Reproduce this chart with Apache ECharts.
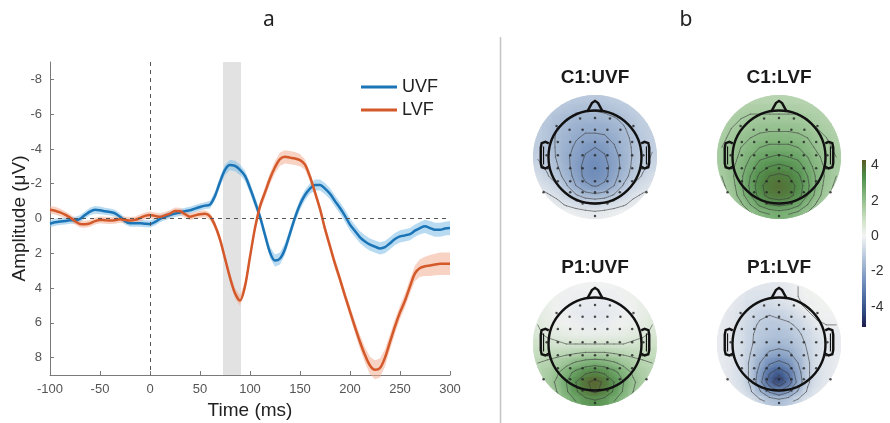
<!DOCTYPE html>
<html><head><meta charset="utf-8">
<script src="https://cdn.jsdelivr.net/npm/echarts@6/dist/echarts.min.js"></script>
<style>html,body{margin:0;padding:0;background:#fff}#c{width:890px;height:423px}</style>
</head><body><div id="c"></div>
<script>
// ---------------- panel a data ----------------
const times = [-100,-95,-90,-85,-80,-75,-70,-65,-60,-55,-50,-45,-40,-35,-30,-25,-20,-15,-10,-5,0,5,10,15,20,25,30,35,40,45,50,55,60,65,70,75,80,85,90,95,100,105,110,115,120,125,130,135,140,145,150,155,160,165,170,175,180,185,190,195,200,205,210,215,220,225,230,235,240,245,250,255,260,265,270,275,280,285,290,295,300];
const uvf = [0.3,0.22,0.17,0.14,0.1,0.1,0.02,-0.2,-0.4,-0.5,-0.47,-0.42,-0.37,-0.3,-0.1,0.15,0.27,0.27,0.27,0.3,0.32,0.2,0.02,-0.1,-0.2,-0.28,-0.35,-0.42,-0.47,-0.57,-0.66,-0.74,-0.8,-1.3,-2.1,-2.8,-3.08,-3.02,-2.8,-2.45,-1.75,-0.95,-0.1,0.95,1.95,2.42,2.3,1.75,0.85,-0.05,-0.8,-1.35,-1.72,-1.93,-1.93,-1.72,-1.42,-1.0,-0.6,-0.15,0.35,0.72,1.08,1.32,1.5,1.62,1.72,1.65,1.42,1.18,1.03,0.97,0.9,0.7,0.55,0.45,0.55,0.65,0.65,0.58,0.55];
const lvf = [-0.5,-0.45,-0.35,-0.22,-0.05,0.15,0.32,0.33,0.28,0.15,0.08,0.1,0.12,0.1,0.05,0.08,0.12,0.08,-0.03,-0.15,-0.2,-0.15,-0.1,-0.18,-0.28,-0.43,-0.42,-0.25,-0.1,-0.18,-0.25,-0.28,-0.12,0.4,1.2,2.3,3.4,4.3,4.72,3.9,2.2,0.55,-0.7,-1.5,-2.3,-2.95,-3.42,-3.55,-3.5,-3.45,-3.36,-3.1,-2.4,-1.5,-0.55,0.6,1.6,2.6,3.5,4.45,5.35,6.25,7.1,7.85,8.45,8.7,8.6,8.0,7.1,6.2,5.4,4.72,3.9,3.15,2.85,2.75,2.7,2.65,2.6,2.6,2.6];
const uvfSem = [0.2,0.2,0.2,0.2,0.2,0.2,0.2,0.2,0.22,0.22,0.22,0.2,0.2,0.2,0.2,0.2,0.2,0.2,0.2,0.2,0.2,0.2,0.2,0.2,0.2,0.2,0.2,0.2,0.2,0.2,0.2,0.2,0.22,
  0.25,0.28,0.3,0.3,0.3,0.3,0.3,0.3,
  0.3,0.3,0.3,0.32,0.35,0.35,0.33,0.3,
  0.3,0.3,0.3,0.3,0.32,0.32,0.32,0.32,0.32,0.33,0.35,0.35,
  0.35,0.35,0.35,0.35,0.35,0.35,0.35,0.35,0.35,0.35,0.35,0.35,0.35,0.35,0.38,0.4,0.4,0.4,0.4,0.4];
const lvfSem = [0.22,0.22,0.22,0.2,0.2,0.2,0.2,0.2,0.2,0.2,0.2,0.2,0.2,0.2,0.2,0.2,0.2,0.2,0.2,0.2,0.2,0.2,0.2,0.2,0.2,0.2,0.2,0.2,0.2,0.2,0.2,0.2,0.2,
  0.22,0.25,0.28,0.3,0.3,0.3,0.28,0.25,
  0.25,0.28,0.3,0.32,0.35,0.38,0.38,0.38,
  0.38,0.35,0.3,0.28,0.25,0.25,0.25,0.28,0.3,0.3,0.3,0.32,
  0.35,0.4,0.45,0.5,0.55,0.55,0.5,0.45,0.42,0.4,0.4,0.42,0.45,0.5,0.55,0.6,0.62,0.65,0.65,0.65];
const xTicks = [-100,-50,0,50,100,150,200,250,300];
const yTicks = [-8,-6,-4,-2,0,2,4,6,8];
const shadeRange = [73, 91];
const seriesNames = ['UVF','LVF'];

// ---------------- panel b data ----------------
const mapTitles = ['C1:UVF','C1:LVF','P1:UVF','P1:LVF'];
const topoX = [-0.923,-0.769,-0.615,-0.462,-0.308,-0.154,0,0.154,0.308,0.462,0.615,0.769,0.923];
const topoY = [0.923,0.769,0.615,0.462,0.308,0.154,0,-0.154,-0.308,-0.462,-0.615,-0.769,-0.923];
const topoC1UVF = [
 [-0.9,-0.9,-0.95,-1.0,-1.1,-1.1,-1.1,-1.1,-1.0,-0.95,-0.9,-0.85,-0.85],
 [-0.95,-1.0,-1.1,-1.2,-1.3,-1.35,-1.35,-1.3,-1.2,-1.1,-0.95,-0.85,-0.85],
 [-1.0,-1.1,-1.3,-1.4,-1.55,-1.6,-1.6,-1.55,-1.45,-1.3,-1.1,-0.95,-0.85],
 [-1.0,-1.2,-1.4,-1.55,-1.7,-1.8,-1.8,-1.8,-1.6,-1.45,-1.2,-1.0,-0.95],
 [-1.0,-1.2,-1.45,-1.6,-1.85,-2.0,-2.0,-1.95,-1.8,-1.55,-1.3,-1.1,-0.95],
 [-1.0,-1.2,-1.45,-1.7,-2.0,-2.3,-2.4,-2.3,-1.95,-1.6,-1.35,-1.1,-0.95],
 [-0.95,-1.1,-1.45,-1.8,-2.1,-2.45,-2.55,-2.45,-2.1,-1.7,-1.35,-1.1,-0.85],
 [-0.75,-1.0,-1.35,-1.7,-2.2,-2.55,-2.7,-2.55,-2.2,-1.7,-1.3,-1.0,-0.75],
 [-0.6,-0.85,-1.2,-1.6,-2.1,-2.55,-2.7,-2.55,-2.1,-1.6,-1.2,-0.85,-0.6],
 [-0.45,-0.6,-0.85,-1.35,-1.9,-2.3,-2.45,-2.3,-1.9,-1.35,-0.85,-0.6,-0.45],
 [-0.25,-0.35,-0.5,-0.85,-1.35,-1.7,-1.8,-1.7,-1.35,-0.85,-0.5,-0.35,-0.25],
 [-0.1,-0.15,-0.25,-0.45,-0.6,-0.75,-0.85,-0.75,-0.6,-0.45,-0.25,-0.15,-0.1],
 [0.2,0.2,0.1,0.0,-0.1,-0.15,-0.2,-0.15,-0.1,0.0,0.1,0.2,0.2]];
const topoC1LVF = [
 [1.2,1.2,1.2,1.3,1.3,1.3,1.3,1.3,1.3,1.3,1.2,1.2,1.2],
 [1.3,1.3,1.4,1.5,1.5,1.5,1.5,1.5,1.5,1.4,1.4,1.3,1.3],
 [1.4,1.5,1.6,1.7,1.7,1.7,1.7,1.7,1.7,1.6,1.5,1.4,1.3],
 [1.5,1.6,1.7,1.8,1.9,1.9,1.9,1.9,1.9,1.8,1.6,1.5,1.4],
 [1.5,1.7,1.9,2.0,2.1,2.2,2.2,2.2,2.1,2.0,1.8,1.6,1.5],
 [1.6,1.8,2.0,2.2,2.4,2.5,2.5,2.5,2.4,2.2,1.9,1.7,1.5],
 [1.6,1.8,2.1,2.4,2.7,2.8,2.9,2.8,2.7,2.4,2.1,1.8,1.6],
 [1.6,1.9,2.2,2.6,3.0,3.2,3.3,3.2,3.0,2.6,2.2,1.9,1.6],
 [1.6,1.9,2.3,2.8,3.3,3.6,3.7,3.6,3.3,2.8,2.3,1.9,1.6],
 [1.5,1.8,2.3,2.9,3.5,3.8,3.9,3.8,3.5,2.9,2.3,1.8,1.5],
 [1.4,1.7,2.2,2.8,3.4,3.8,3.9,3.8,3.4,2.8,2.2,1.7,1.4],
 [1.3,1.5,1.9,2.4,2.9,3.2,3.3,3.2,2.9,2.4,1.9,1.5,1.3],
 [1.2,1.3,1.6,1.9,2.2,2.4,2.5,2.4,2.2,1.9,1.6,1.3,1.2]];
const topoP1UVF = [
 [0.3,0.3,0.2,0.1,0.0,0.0,0.0,0.0,0.0,0.1,0.2,0.3,0.3],
 [0.3,0.2,0.1,0.0,-0.1,-0.1,-0.1,-0.1,-0.1,0.0,0.1,0.2,0.3],
 [0.3,0.2,0.0,-0.1,-0.2,-0.2,-0.2,-0.2,-0.2,-0.1,0.0,0.2,0.3],
 [0.4,0.2,0.0,-0.1,-0.2,-0.3,-0.3,-0.3,-0.2,-0.1,0.0,0.2,0.4],
 [0.5,0.3,0.1,0.0,-0.1,-0.2,-0.2,-0.2,-0.1,0.0,0.1,0.3,0.5],
 [0.6,0.4,0.3,0.2,0.1,0.1,0.1,0.1,0.1,0.2,0.3,0.4,0.6],
 [0.8,0.7,0.6,0.5,0.5,0.5,0.5,0.5,0.5,0.5,0.6,0.7,0.8],
 [1.0,1.0,1.0,1.1,1.2,1.3,1.3,1.3,1.2,1.1,1.0,1.0,1.0],
 [1.2,1.3,1.5,1.7,2.0,2.2,2.3,2.2,2.0,1.7,1.5,1.3,1.2],
 [1.3,1.5,1.8,2.3,2.8,3.2,3.4,3.2,2.8,2.3,1.8,1.5,1.3],
 [1.3,1.6,2.0,2.6,3.3,3.9,4.2,3.9,3.3,2.6,2.0,1.6,1.3],
 [1.2,1.5,1.9,2.5,3.2,3.8,4.1,3.8,3.2,2.5,1.9,1.5,1.2],
 [1.0,1.3,1.6,2.1,2.6,3.0,3.2,3.0,2.6,2.1,1.6,1.3,1.0]];
const topoP1LVF = [
 [-0.2,-0.2,-0.2,-0.3,-0.3,-0.3,-0.3,-0.2,-0.1,0.0,0.0,0.0,0.0],
 [-0.1,-0.2,-0.3,-0.4,-0.4,-0.4,-0.3,-0.2,-0.1,0.0,0.1,0.1,0.0],
 [-0.1,-0.2,-0.3,-0.5,-0.6,-0.6,-0.5,-0.4,-0.2,0.0,0.1,0.1,0.0],
 [-0.2,-0.3,-0.4,-0.6,-0.8,-0.9,-0.8,-0.7,-0.5,-0.2,0.0,0.0,0.0],
 [-0.2,-0.3,-0.5,-0.7,-1.0,-1.1,-1.1,-1.0,-0.8,-0.5,-0.2,-0.1,-0.1],
 [-0.2,-0.3,-0.5,-0.8,-1.1,-1.2,-1.3,-1.2,-1.0,-0.7,-0.4,-0.2,-0.2],
 [-0.2,-0.3,-0.5,-0.8,-1.2,-1.4,-1.5,-1.4,-1.2,-0.8,-0.5,-0.3,-0.2],
 [-0.2,-0.3,-0.5,-0.9,-1.4,-1.8,-1.9,-1.8,-1.4,-0.9,-0.5,-0.3,-0.2],
 [-0.2,-0.3,-0.5,-1.0,-1.7,-2.4,-2.7,-2.4,-1.7,-1.0,-0.5,-0.3,-0.2],
 [-0.2,-0.3,-0.5,-1.0,-2.0,-3.2,-3.8,-3.2,-2.0,-1.0,-0.5,-0.3,-0.2],
 [-0.2,-0.3,-0.5,-1.0,-2.2,-3.8,-4.8,-3.8,-2.2,-1.0,-0.5,-0.3,-0.2],
 [-0.1,-0.2,-0.4,-0.8,-1.6,-2.6,-3.2,-2.6,-1.6,-0.8,-0.4,-0.2,-0.1],
 [-0.1,-0.1,-0.2,-0.4,-0.7,-1.1,-1.3,-1.1,-0.7,-0.4,-0.2,-0.1,-0.1]];
const topoMaps = [topoC1UVF, topoC1LVF, topoP1UVF, topoP1LVF];
const contourLevels = [
 [-2.4,-1.9,-1.4,-0.9,-0.4],
 [1.6,2.0,2.4,2.8,3.2,3.6],
 [0.5,1.2,1.9,2.6,3.3,4.0],
 [-0.1,-0.9,-1.7,-2.5,-3.3,-4.1]];
const electrodes = [
 [-0.24,0.62],[0,0.63],[0.24,0.62],
 [-0.62,0.5],[-0.41,0.44],[-0.2,0.44],[0,0.44],[0.2,0.44],[0.41,0.44],[0.62,0.5],
 [-0.6,0.24],[-0.4,0.24],[-0.2,0.24],[0,0.24],[0.2,0.24],[0.4,0.24],[0.6,0.24],
 [-0.78,0.03],[-0.6,0.03],[-0.4,0.03],[-0.2,0.03],[0,0.03],[0.2,0.03],[0.4,0.03],[0.6,0.03],[0.78,0.03],
 [-0.76,-0.18],[-0.6,-0.18],[-0.4,-0.18],[-0.2,-0.18],[0,-0.18],[0.2,-0.18],[0.4,-0.18],[0.6,-0.18],[0.76,-0.18],
 [-0.6,-0.39],[-0.4,-0.39],[-0.2,-0.39],[0,-0.39],[0.2,-0.39],[0.4,-0.39],[0.6,-0.39],
 [-0.83,-0.57],[-0.4,-0.57],[-0.2,-0.57],[0,-0.57],[0.2,-0.57],[0.4,-0.57],[0.83,-0.57],
 [-0.2,-0.75],[0,-0.75],[0.2,-0.75],
 [0,-0.95]];
const cbTicks = [4,2,0,-2,-4];
const cbMin = -5.14, cbMax = 4.3;
const colormap = ['#1e1b4b','#2f4a80','#4d6ea3','#7390bd','#9db3d0','#c8d4e4','#f3f4f3','#cfe3c9','#a3c99c','#74ad6f','#4b8a46','#5b5a28'];

// head outline geometry (topo plot units)
const headR = 0.75;
const noseLine = [[-0.12,0.74],[-0.05,0.87],[0,0.905],[0.05,0.87],[0.12,0.74]];
const earLeft = [[-0.745,0.22],[-0.8,0.245],[-0.86,0.225],[-0.875,0.15],[-0.875,-0.1],[-0.86,-0.165],[-0.8,-0.185],[-0.745,-0.155]];
const earLeftInner = [[-0.83,0.17],[-0.83,-0.12]];

// ---------------- layout ----------------
const R = 62;
const mapCenters = [[595,157],[779,157],[595,344],[779,344]];
const FONT = 'Liberation Sans, Arial, sans-serif';

const chart = echarts.init(document.getElementById('c'), null, {renderer:'canvas'});

const grids = [{left:50, top:62, width:400, height:313, containLabel:false, outerBoundsMode:'none'}];
const xAxes = [{
  type:'value', gridIndex:0, min:-100, max:300, interval:50,
  axisLine:{onZero:false, lineStyle:{color:'#7a7a7a', width:1}},
  axisTick:{inside:true, length:4, lineStyle:{color:'#7a7a7a'}},
  axisLabel:{color:'#555', fontSize:13, fontFamily:FONT, margin:8, customValues:xTicks},
  splitLine:{show:false},
  name:'Time (ms)', nameLocation:'middle', nameGap:26,
  nameTextStyle:{fontSize:19, color:'#222', fontFamily:FONT}
}];
const yAxes = [{
  type:'value', gridIndex:0, min:-9, max:9, inverse:true,
  axisLine:{show:true, onZero:false, lineStyle:{color:'#7a7a7a', width:1}},
  axisTick:{show:true, inside:true, length:4, customValues:yTicks, lineStyle:{color:'#7a7a7a'}},
  axisLabel:{color:'#555', fontSize:13, fontFamily:FONT, margin:8, customValues:yTicks},
  splitLine:{show:false},
  name:'Amplitude (μV)', nameLocation:'middle', nameGap:21, nameRotate:90, nameMoveOverlap:false,
  nameTextStyle:{fontSize:19, color:'#222', fontFamily:FONT}
}];
mapCenters.forEach((c,i)=>{
  grids.push({left:c[0]-R, top:c[1]-R, width:2*R, height:2*R, outerBoundsMode:'none'});
  xAxes.push({type:'value', gridIndex:i+1, min:-1, max:1, show:false});
  yAxes.push({type:'value', gridIndex:i+1, min:-1, max:1, show:false});
});
grids.push({left:862, top:160, width:4, height:167, outerBoundsMode:'none'});
xAxes.push({type:'value', gridIndex:5, min:0, max:1, show:false});
yAxes.push({type:'value', gridIndex:5, min:cbMin, max:cbMax, position:'right',
  axisLine:{show:false}, axisTick:{show:false}, splitLine:{show:false},
  axisLabel:{show:true, customValues:cbTicks, fontSize:14, color:'#333', fontFamily:FONT, margin:5}});

const series = [];
series.push({type:'line', xAxisIndex:0, yAxisIndex:0, symbol:'none', silent:true, z:1,
  lineStyle:{opacity:0}, data: times.map((t,i)=>[t, uvf[i]]),
  markArea:{silent:true, itemStyle:{color:'#e2e2e2'}, data:[[{xAxis:shadeRange[0]},{xAxis:shadeRange[1]}]]},
  markLine:{silent:true, symbol:['none','none'], label:{show:false},
    lineStyle:{type:[4,4], color:'#555', width:1}, data:[{xAxis:0},{yAxis:0}]}});
function bandSeries(vals, sem, color){
  const data = times.map((t,i)=>[t, vals[i]-sem[i], vals[i]+sem[i]]);
  return {type:'custom', xAxisIndex:0, yAxisIndex:0, silent:true, z:2, data:data,
    encode:{x:0, y:[1,2]},
    renderItem:function(params, api){
      if (params.dataIndexInside !== 0) return null;
      const up=[], lo=[];
      for (let i=0;i<data.length;i++){
        up.push(api.coord([api.value(0,i), api.value(2,i)]));
        lo.push(api.coord([api.value(0,i), api.value(1,i)]));
      }
      return {type:'polygon', shape:{points: up.concat(lo.reverse())}, style:{fill:color}};
    }};
}
series.push(bandSeries(uvf, uvfSem, 'rgba(125,190,232,0.55)'));
series.push(bandSeries(lvf, lvfSem, 'rgba(242,165,135,0.5)'));
series.push({name:seriesNames[0], type:'line', xAxisIndex:0, yAxisIndex:0, symbol:'none', smooth:0.3,
  color:'#1a74b6', lineStyle:{width:2.5, color:'#1a74b6'}, data: times.map((t,i)=>[t, uvf[i]]), z:4});
series.push({name:seriesNames[1], type:'line', xAxisIndex:0, yAxisIndex:0, symbol:'none', smooth:0.3,
  color:'#d4592a', lineStyle:{width:2.5, color:'#d4592a'}, data: times.map((t,i)=>[t, lvf[i]]), z:4});

// ----- topo maps -----
const cellSize = topoX[1]-topoX[0];
const colorSeriesIdx = [];
function circleClip(api){
  const o = api.coord([0,0]);
  return {type:'circle', shape:{cx:o[0], cy:o[1], r:api.size([1,0])[0]}};
}
function renderCell(params, api){
  const c = api.coord([api.value(0), api.value(1)]);
  const s = api.size([cellSize, cellSize]);
  return {type:'rect',
    shape:{x:c[0]-s[0]/2-0.4, y:c[1]-s[1]/2-0.4, width:s[0]+0.8, height:s[1]+0.8},
    style:{fill:api.visual('color')}, clipPath:circleClip(api)};
}
function renderCellSoft(params, api){
  const c = api.coord([api.value(0), api.value(1)]);
  const s = api.size([cellSize, cellSize]);
  const OFF = 3000, col = api.visual('color');
  return {type:'rect',
    shape:{x:c[0]-s[0]*0.6-OFF, y:c[1]-s[1]*0.6, width:s[0]*1.2, height:s[1]*1.2},
    style:{fill:col, shadowColor:col, shadowBlur:s[0]*1.1, shadowOffsetX:OFF, shadowOffsetY:0},
    clipPath:circleClip(api)};
}
function contourSegments(grid, levels){
  const segs=[];
  const nr=grid.length, nc=grid[0].length;
  levels.forEach(L=>{
    for(let r=0;r<nr-1;r++) for(let c=0;c<nc-1;c++){
      const v=[grid[r][c], grid[r][c+1], grid[r+1][c+1], grid[r+1][c]];
      const p=[[topoX[c],topoY[r]],[topoX[c+1],topoY[r]],[topoX[c+1],topoY[r+1]],[topoX[c],topoY[r+1]]];
      const pts=[];
      for(let e=0;e<4;e++){
        const a=v[e], b=v[(e+1)%4];
        if((a<L)!==(b<L)){
          const t=(L-a)/(b-a), q=p[(e+1)%4];
          pts.push([p[e][0]+t*(q[0]-p[e][0]), p[e][1]+t*(q[1]-p[e][1])]);
        }
      }
      if(pts.length===2) segs.push([pts[0][0],pts[0][1],pts[1][0],pts[1][1]]);
      else if(pts.length===4){
        segs.push([pts[0][0],pts[0][1],pts[1][0],pts[1][1]]);
        segs.push([pts[2][0],pts[2][1],pts[3][0],pts[3][1]]);
      }
    }
  });
  return segs;
}
function renderContour(params, api){
  const a = api.coord([api.value(0), api.value(1)]);
  const b = api.coord([api.value(2), api.value(3)]);
  return {type:'line', shape:{x1:a[0], y1:a[1], x2:b[0], y2:b[1]},
    style:{stroke:'rgba(60,60,60,0.75)', lineWidth:0.8, lineCap:'round'}, clipPath:circleClip(api)};
}
function renderHead(params, api){
  const o = api.coord([0,0]);
  const r = api.size([headR,0])[0];
  const P = p=>api.coord(p);
  const mirror = pts=>pts.map(p=>[-p[0],p[1]]);
  const st = {fill:'none', stroke:'#111', lineWidth:2.4};
  const st2 = {fill:'none', stroke:'#111', lineWidth:1.2};
  return {type:'group', children:[
    {type:'circle', shape:{cx:o[0], cy:o[1], r:r}, style:st},
    {type:'polyline', shape:{points:noseLine.map(P)}, style:st},
    {type:'polyline', shape:{points:earLeft.map(P)}, style:st},
    {type:'polyline', shape:{points:mirror(earLeft).map(P)}, style:st},
    {type:'polyline', shape:{points:earLeftInner.map(P)}, style:st2},
    {type:'polyline', shape:{points:mirror(earLeftInner).map(P)}, style:st2}
  ]};
}
topoMaps.forEach((m,k)=>{
  const data = [];
  m.forEach((row,ri)=>row.forEach((v,ci)=>data.push([topoX[ci], topoY[ri], v])));
  colorSeriesIdx.push(series.length);
  series.push({type:'custom', xAxisIndex:k+1, yAxisIndex:k+1, renderItem:renderCell,
    encode:{x:0, y:1}, data:data, silent:true, z:2});
  colorSeriesIdx.push(series.length);
  series.push({type:'custom', xAxisIndex:k+1, yAxisIndex:k+1, renderItem:renderCellSoft,
    encode:{x:0, y:1}, data:data, silent:true, z:3});
  series.push({type:'custom', xAxisIndex:k+1, yAxisIndex:k+1, renderItem:renderContour,
    encode:{x:[0,2], y:[1,3]}, data:contourSegments(m, contourLevels[k]), silent:true, z:4});
  series.push({type:'custom', xAxisIndex:k+1, yAxisIndex:k+1, renderItem:renderHead,
    data:[[0,0]], silent:true, z:5});
  series.push({type:'scatter', xAxisIndex:k+1, yAxisIndex:k+1, symbolSize:2.5, silent:true,
    itemStyle:{color:'#222'}, data:electrodes, z:6});
});
series.push({type:'custom', xAxisIndex:5, yAxisIndex:5, silent:true, data:[[0,cbMin,1,cbMax]],
  renderItem:function(params, api){
    const p0 = api.coord([api.value(0), api.value(3)]);
    const p1 = api.coord([api.value(2), api.value(1)]);
    const stops = colormap.map((c,i)=>({offset:i/(colormap.length-1), color:c}));
    return {type:'rect', shape:{x:p0[0], y:p0[1], width:p1[0]-p0[0], height:p1[1]-p0[1]},
      style:{fill:new echarts.graphic.LinearGradient(0,1,0,0, stops)}};
  }});

const graphic = [
  {type:'line', shape:{x1:500.5, y1:37, x2:500.5, y2:423}, style:{stroke:'#c4c4c4', lineWidth:1.5}, silent:true},
  {type:'text', x:269, y:20, style:{text:'a', font:'21px Noto Sans, sans-serif', fill:'#222', textAlign:'center', textVerticalAlign:'middle'}},
  {type:'text', x:686, y:20, style:{text:'b', font:'21px Noto Sans, sans-serif', fill:'#222', textAlign:'center', textVerticalAlign:'middle'}}
];
mapTitles.forEach((t,i)=>{
  graphic.push({type:'text', x:mapCenters[i][0], y:mapCenters[i][1]-(i<2?79:76),
    style:{text:t, font:'bold 19px Liberation Sans, Arial, sans-serif', fill:'#1a1a1a', textAlign:'center', textVerticalAlign:'middle'}});
});

chart.setOption({
  animation:false,
  backgroundColor:'#ffffff',
  grid:grids, xAxis:xAxes, yAxis:yAxes,
  legend:{data:seriesNames, orient:'vertical', left:356, top:73, icon:'rect', itemWidth:36, itemHeight:3,
    itemGap:5, textStyle:{fontSize:18, color:'#222', fontFamily:FONT}},
  visualMap:{type:'continuous', show:false, min:cbMin, max:cbMax, dimension:2, seriesIndex:colorSeriesIdx,
    inRange:{color:colormap}},
  series:series,
  graphic:graphic
});
</script></body></html>
